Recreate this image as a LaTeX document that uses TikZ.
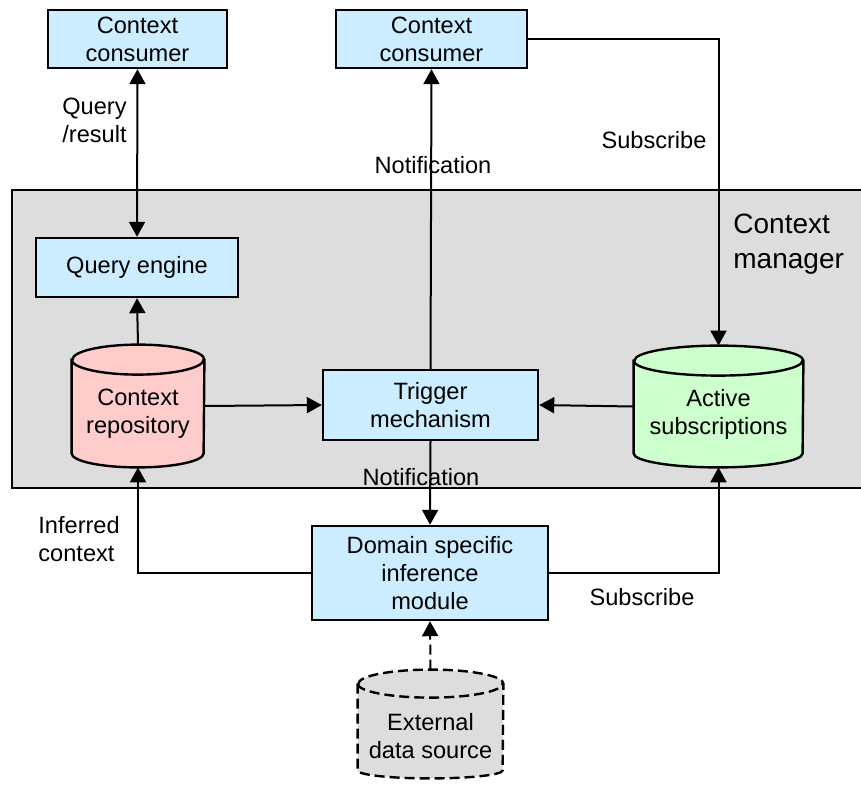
\documentclass[tikz,border=0pt]{standalone}
\usepackage{fontspec}
\setmainfont{Liberation Sans}
\usetikzlibrary{arrows.meta}

\definecolor{boxblue}{RGB}{204,236,255}
\definecolor{repopink}{RGB}{255,204,204}
\definecolor{subsgreen}{RGB}{204,255,204}
\definecolor{mgrgray}{RGB}{221,221,221}

\tikzstyle{block} = [rectangle, draw, fill=boxblue, line width=1.2pt, align=center, inner sep=0pt, font=\fontsize{11.8}{14}\selectfont]
\tikzstyle{dbbox} = [rectangle, inner sep=0pt]
\tikzstyle{dbline} = [line width=1.2pt]
\tikzstyle{txt} = [align=center, inner sep=0pt, font=\fontsize{11.8}{14}\selectfont]
\tikzstyle{conn} = [line width=1pt, -{Triangle[length=7.5pt,width=8pt]}]

\begin{document}
\begin{tikzpicture}[x=0.5pt, y=-0.5pt]
        \useasboundingbox (0,0) rectangle (861,787);
        % Context manager area
        \fill[mgrgray] (12,190) rectangle (861,488);
        \draw[line width=1.1pt] (861,190) -- (12,190) -- (12,488) -- (861,488);
        \node (mgr) at (733,244) [txt, anchor=west, align=left, font=\fontsize{14}{17.5}\selectfont] {Context\\manager};

        % Consumers
        \node (cons1) at (137.5,39) [block, minimum width=89.5pt, minimum height=29pt] {Context\\consumer};
        \node (cons2) at (431.5,39) [block, minimum width=95.5pt, minimum height=29pt] {Context\\consumer};

        % Inside the manager
        \node (query) at (137,267.5) [block, minimum width=101pt, minimum height=29.5pt] {Query engine};
        \node (trigger) at (430.5,405) [block, minimum width=107.5pt, minimum height=35pt] {Trigger\\mechanism};

        % Repository drum
        \node (repo) at (138,406) [dbbox, minimum width=66pt, minimum height=61pt] {};
        \draw[dbline, fill=repopink] ([yshift=-7.5pt]repo.north west) -- ([yshift=7pt]repo.south west)
            arc[start angle=180, end angle=0, x radius=66, y radius=14] -- ([yshift=-7.5pt]repo.north east)
            arc[start angle=360, end angle=180, x radius=66, y radius=15] -- cycle;
        \draw[dbline] ([yshift=-7.5pt]repo.north west) arc[start angle=180, end angle=0, x radius=66, y radius=15];
        \node (repotext) at (138,414) [txt] {Context\\repository};

        % Subscriptions drum
        \node (subs) at (718.5,406.5) [dbbox, minimum width=84.5pt, minimum height=60.5pt] {};
        \draw[dbline, fill=subsgreen] ([yshift=-7.5pt]subs.north west) -- ([yshift=7pt]subs.south west)
            arc[start angle=180, end angle=0, x radius=84.5, y radius=14] -- ([yshift=-7.5pt]subs.north east)
            arc[start angle=360, end angle=180, x radius=84.5, y radius=15] -- cycle;
        \draw[dbline] ([yshift=-7.5pt]subs.north west) arc[start angle=180, end angle=0, x radius=84.5, y radius=15];
        \node (substext) at (718.5,414) [txt] {Active\\subscriptions};

        % Below the manager
        \node (domain) at (430,573) [block, minimum width=118pt, minimum height=47pt] {Domain specific\\inference\\module};

        % External source drum
        \node (ext) at (430.5,724) [dbbox, minimum width=72.5pt, minimum height=54pt] {};
        \draw[dbline, dash pattern=on 5pt off 2.5pt, fill=mgrgray] ([yshift=-7pt]ext.north west) -- ([yshift=4pt]ext.south west)
            arc[start angle=180, end angle=0, x radius=72.5, y radius=8] -- ([yshift=-7pt]ext.north east)
            arc[start angle=360, end angle=180, x radius=72.5, y radius=14] -- cycle;
        \draw[dbline, dash pattern=on 5pt off 2.5pt] ([yshift=-7pt]ext.north west) arc[start angle=180, end angle=0, x radius=72.5, y radius=14];
        \node (exttext) at (430.5,736.5) [txt] {External\\data source};

        % Connector labels
        \node (lquery) at (94.5,120) [txt] {Query\\/result};
        \node (lnote1) at (433,165) [txt] {Notification};
        \node (lsub1) at (654,140) [txt] {Subscribe};
        \node (lnote2) at (421,477) [txt] {Notification};
        \node (linf) at (38,539) [txt, anchor=west, align=left] {Inferred\\context};
        \node (lsub2) at (642,597) [txt] {Subscribe};

        % Connectors
        \draw[conn, {Triangle[length=7.5pt,width=8pt]}-{Triangle[length=7.5pt,width=8pt]}] (cons1.south) -- (query.north);
        \draw[conn] (repo.north) -- (query.south);
        \draw[conn] (trigger.north) -- (cons2.south);
        \draw[conn] (cons2.east) -| (subs.north);
        \draw[conn] (repo.east) -- (trigger.west);
        \draw[conn] (subs.west) -- (trigger.east);
        \draw[conn] (trigger.south) -- (domain.north);
        \draw[conn] (domain.west) -| (repo.south);
        \draw[conn] (domain.east) -| (subs.south);
        \draw[conn, dash pattern=on 5pt off 2.5pt] (ext.north) -- (domain.south);
    \end{tikzpicture}
\end{document}
